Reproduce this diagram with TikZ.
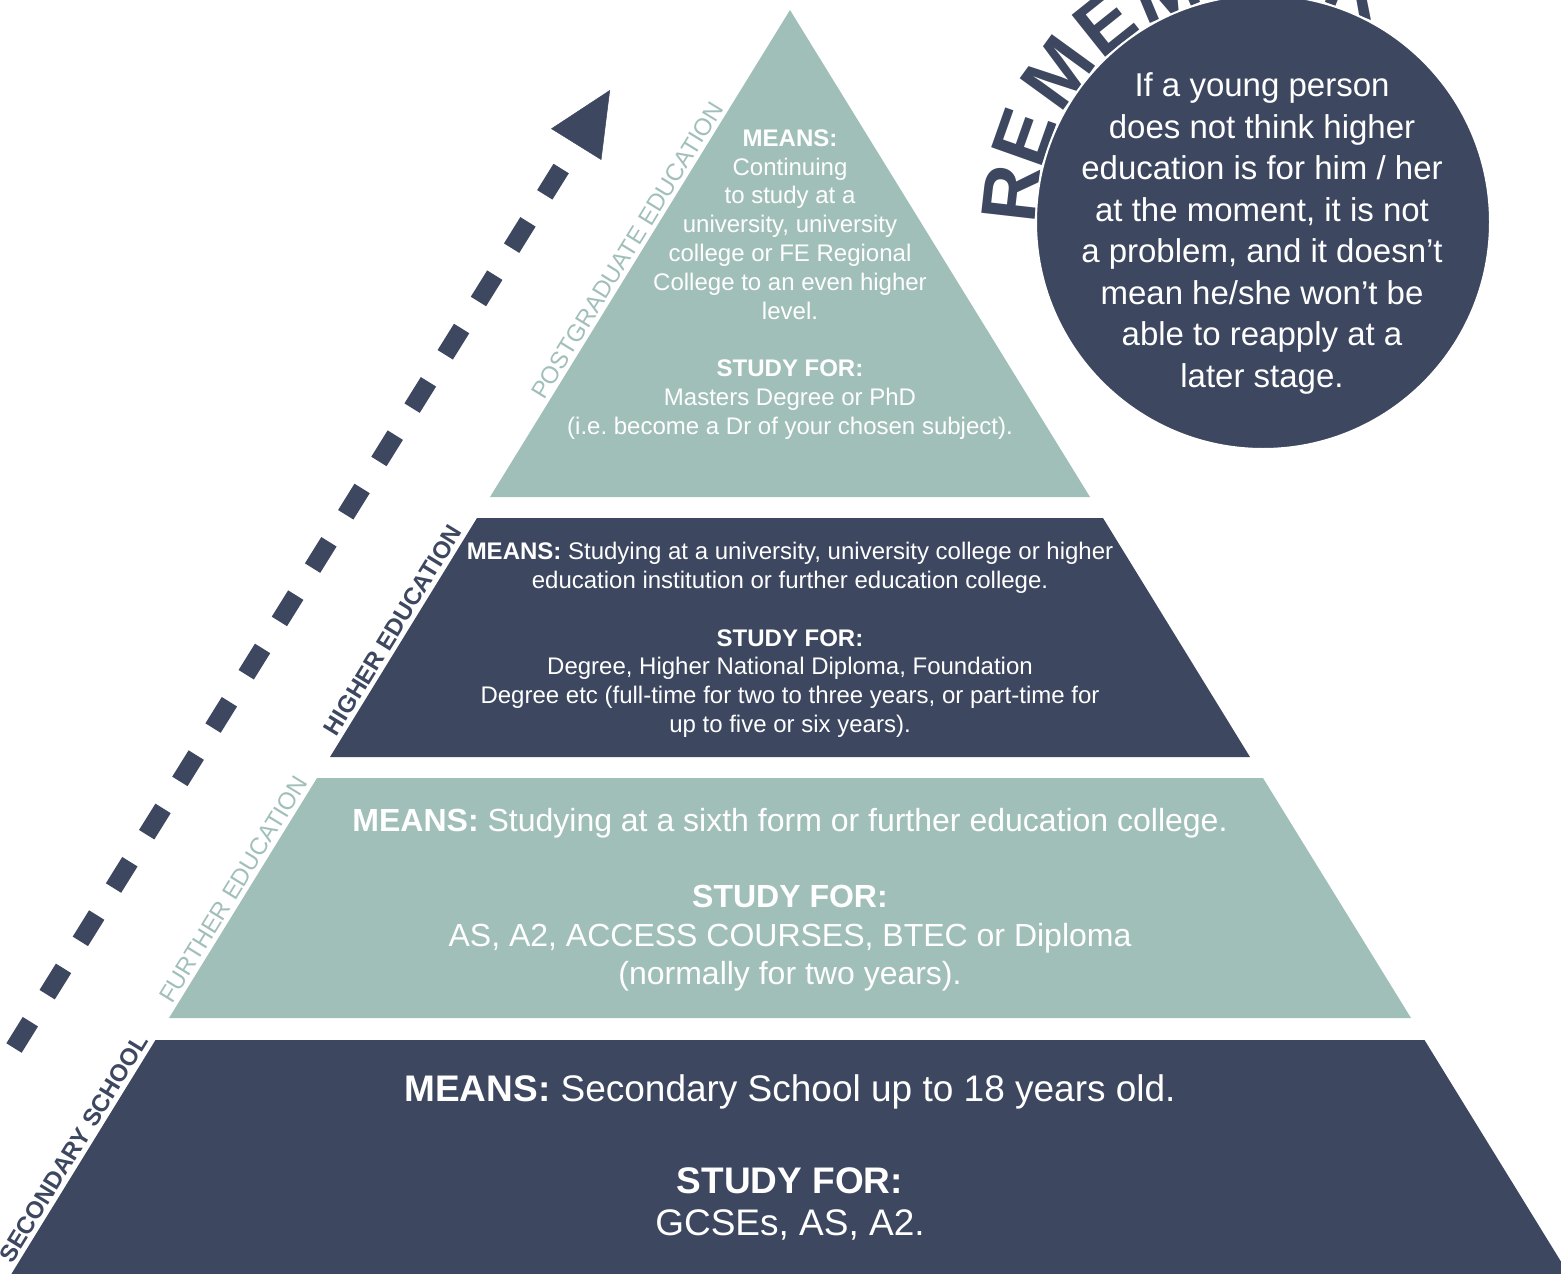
\documentclass[tikz,border=0pt]{standalone}
\usepackage{fontspec}
\setmainfont{Liberation Sans}
\usepackage{xcolor}
\definecolor{SlateNavy}{RGB}{61, 71, 96}
\definecolor{SageTeal}{RGB}{161, 191, 185}
\usepackage{tikz}
\usetikzlibrary{arrows.meta, calc}
\frenchspacing

\tikzset{
  bandtext/.style={text=white, align=center, inner sep=0pt},
  sidelabel/.style={rotate=58.4, anchor=south, inner sep=0pt, font=\fontsize{24}{24}\selectfont},
  sidebold/.style={sidelabel, font=\fontsize{24}{24}\selectfont\bfseries},
  remletter/.style={text=SlateNavy, inner sep=0pt, anchor=base, font=\fontsize{78}{78}\selectfont\bfseries},
}

\begin{document}
\begin{tikzpicture}[x=1pt, y=-1pt]
  \useasboundingbox (0,0) rectangle (1561,1274);
  \clip (0,0) rectangle (1561,1274);

  % pyramid levels
  \fill[SageTeal] (790,10) -- (1090,497) -- (490,497) -- cycle;
  \fill[SlateNavy] (477,518) -- (1103,518) -- (1250,757) -- (330,757) -- cycle;
  \fill[SageTeal] (317,778) -- (1263,778) -- (1411,1018) -- (169,1018) -- cycle;
  \fill[SlateNavy] (155.5,1040) -- (1424.5,1040) -- (1578.5,1290) -- (1.5,1290) -- cycle;

  \node[bandtext, font=\fontsize{24}{28.8}\selectfont] (postgrad) at (790,284.5)
    {\textbf{MEANS:}\\Continuing\\to study at a\\university, university\\college or FE Regional\\College to an even higher\\level.\\[28.8pt]\textbf{STUDY FOR:}\\Masters Degree or PhD\\(i.e. become a Dr of your chosen subject).};
  \node[bandtext, font=\fontsize{24}{28.8}\selectfont] (higher) at (790,640)
    {\textbf{MEANS:} Studying at a university, university college or higher\\education institution or further education college.\\[28.5pt]\textbf{STUDY FOR:}\\Degree, Higher National Diploma, Foundation\\Degree etc (full-time for two to three years, or part-time for\\up to five or six years).};
  \node[bandtext, font=\fontsize{32}{38.5}\selectfont] (further) at (790,900)
    {\textbf{MEANS:} Studying at a sixth form or further education college.\\[37.5pt]\textbf{STUDY FOR:}\\AS, A2, ACCESS COURSES, BTEC or Diploma\\(normally for two years).};
  \node[bandtext, font=\fontsize{37}{42}\selectfont] (secondary) at (790,1157.5)
    {\textbf{MEANS:} Secondary School up to 18 years old.\\[50pt]\textbf{STUDY FOR:}\\GCSEs, AS, A2.};

  % labels along the left edge
  \node[sidelabel, text=SageTeal] (pglabel) at (634.6,254.9) {POSTGRADUATE EDUCATION};
  \node[sidebold, text=SlateNavy] (helabel) at (400.2,634.9) {HIGHER EDUCATION};
  \node[sidelabel, text=SageTeal] (felabel) at (240.6,893.9) {FURTHER EDUCATION};
  \node[sidebold, text=SlateNavy] (sslabel) at (81,1153) {SECONDARY SCHOOL};

  % progression arrow
  \coordinate (arrowfoot) at (14,1048);
  \coordinate (arrowtip) at (610,90);
  \draw[SlateNavy, line width=18pt, dash pattern=on 31pt off 31.8pt,
        -{Triangle[length=64pt, width=59pt, line width=0.5pt]}] (arrowfoot) -- (arrowtip);

  % remember badge
  \coordinate (badge) at (1263,222);
  \foreach \ch/\ang [count=\i] in {R/173.5, E/160.5, M/144, E/128.6, M/112.8, B/97.5, E/83, R/68.5}
    \node[remletter, rotate=\ang-90] (rem\i) at ($(badge)+(-\ang:227)$) {\ch};
  \node[circle, fill=SlateNavy, draw=white, line width=2pt, minimum size=454pt, inner sep=0pt] (remember) at (badge) {};
  \node[bandtext, font=\fontsize{33}{41.5}\selectfont] (note) at (1262,233.5)
    {If a young person\\does not think higher\\education is for him / her\\at the moment, it is not\\a problem, and it doesn't\\mean he/she won't be\\able to reapply at a\\later stage.};
\end{tikzpicture}
\end{document}
